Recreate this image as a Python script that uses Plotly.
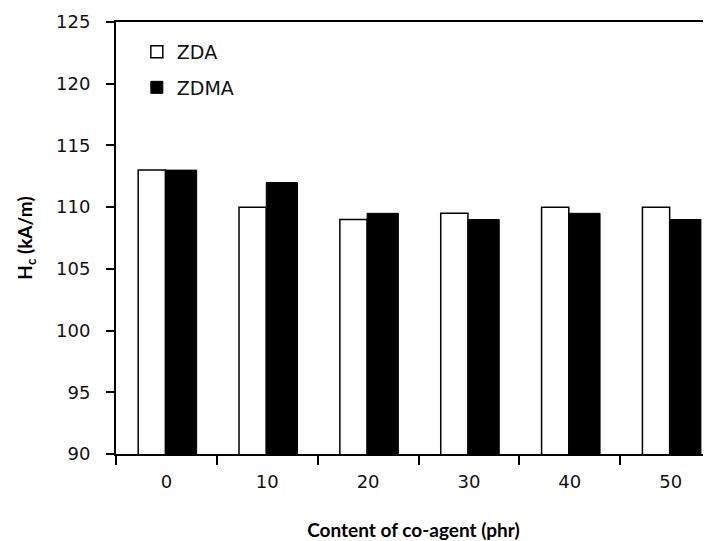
import plotly.graph_objects as go

categories = ["0", "10", "20", "30", "40", "50"]
zda = [113, 110, 109, 109.5, 110, 110]
zdma = [113, 112, 109.5, 109, 109.5, 109]
y_ticks = [90, 95, 100, 105, 110, 115, 120, 125]

fig = go.Figure()
fig.add_trace(go.Bar(
    x=categories, y=zda, name="ZDA", legendgroup="a",
    marker=dict(color="white", line=dict(color="black", width=1.5)),
    width=0.27, offset=-0.28,
))
fig.add_trace(go.Bar(
    x=categories, y=zdma, name="ZDMA", legendgroup="b",
    marker=dict(color="black", line=dict(color="black", width=1)),
    width=0.31, offset=-0.01,
))

tick_font = dict(family="DejaVu Sans", size=18, color="#111")

# page body has an 8px default margin, so the figure is sized to fit
fig.update_layout(
    width=703, height=533,
    margin=dict(l=108, r=0, t=14, b=87),
    paper_bgcolor="white", plot_bgcolor="white",
    barmode="overlay",
    showlegend=True,
    legend=dict(
        x=0.035, y=0.975, xanchor="left", yanchor="top",
        font=dict(family="DejaVu Sans", size=19, color="#111"),
        bgcolor="rgba(0,0,0,0)", tracegroupgap=8,
        traceorder="grouped", itemwidth=30,
    ),
    xaxis=dict(
        type="category", range=[-0.5, 5.4], automargin=False,
        showline=True, linecolor="black", linewidth=2, mirror=True,
        ticks="outside", ticklen=9, tickwidth=2, tickcolor="black",
        tickson="boundaries", ticklabelstandoff=10,
        tickfont=tick_font, showgrid=False,
        title=dict(text="Content of co-agent (phr)",
                   font=dict(family="Lato", size=19, color="black", weight="bold"),
                   standoff=34),
    ),
    yaxis=dict(
        range=[90, 125], tickvals=y_ticks, automargin=False,
        showline=True, linecolor="black", linewidth=2,
        ticks="outside", ticklen=8, tickwidth=2, tickcolor="black",
        ticklabelstandoff=12,
        tickfont=tick_font, showgrid=False, zeroline=False,
        title=dict(text="H<sub>c</sub> (kA/m)",
                   font=dict(family="Lato", size=19, color="black", weight="bold"),
                   standoff=18),
    ),
)

fig.write_html("out.html")
